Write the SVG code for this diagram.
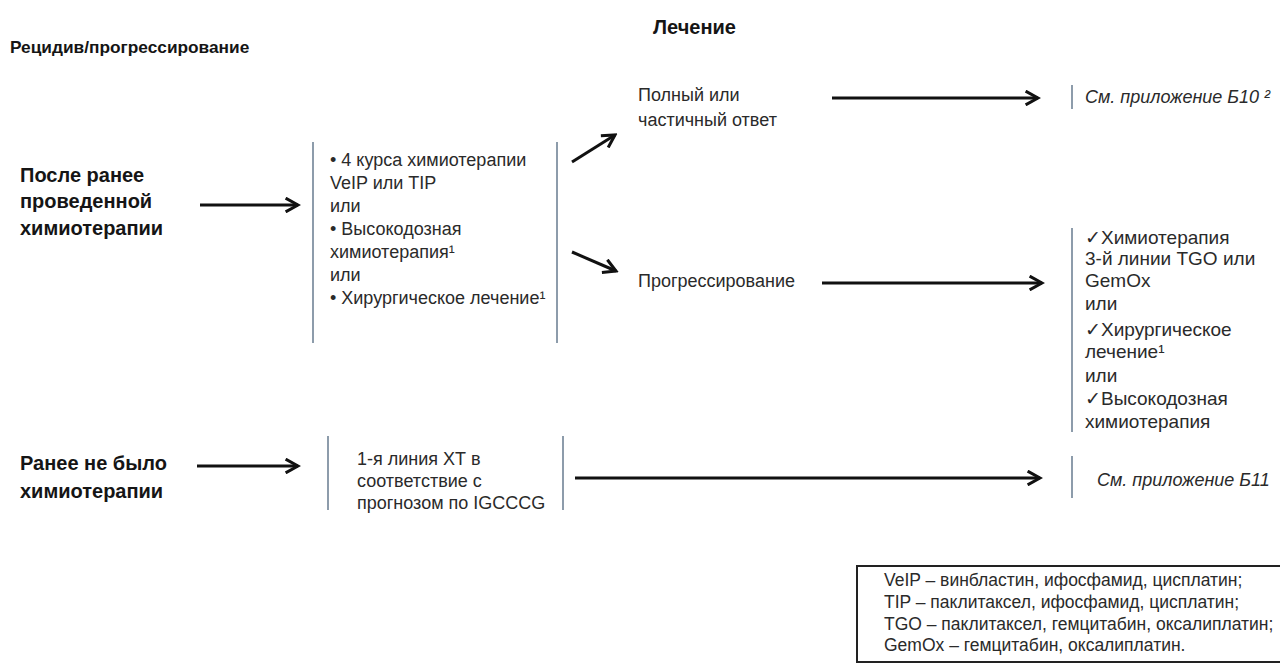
<svg xmlns="http://www.w3.org/2000/svg" width="1280" height="669" viewBox="0 0 1280 669">
<defs>
<style>
text{font-family:"Liberation Sans",Arial,sans-serif;fill:#2a2a2a;}
.h{font-weight:bold;font-size:17.3px;fill:#151515;}
.big{font-weight:bold;font-size:20px;fill:#151515;}
.t{font-size:18px;}
.r{font-size:19px;}
.it{font-size:18px;font-style:italic;}
.leg{font-size:17.5px;}
.bar{stroke:#8d9cab;stroke-width:2;}
.arr{stroke:#111;stroke-width:3;fill:none;marker-end:url(#ah);}
</style>
<marker id="ah" viewBox="0 0 12 12" refX="10" refY="6" markerWidth="5.5" markerHeight="5.5" markerUnits="strokeWidth" orient="auto">
<path d="M1,1 L10,6 L1,11" fill="none" stroke="#111" stroke-width="2.2"/>
</marker>
</defs>
<rect width="1280" height="669" fill="#fff"/>

<g id="titles">
<text class="h" x="10" y="53">Рецидив/прогрессирование</text>
<text class="h" x="653" y="34" style="font-size:20px">Лечение</text>
</g>

<g id="n-after">
<text class="big" x="20" y="182">После ранее</text>
<text class="big" x="20" y="208">проведенной</text>
<text class="big" x="20" y="235">химиотерапии</text>
</g>

<g id="n-options">
<line class="bar" x1="313" y1="142" x2="313" y2="343"/>
<line class="bar" x1="557" y1="142" x2="557" y2="343"/>
<text class="t" x="330" y="166">• 4 курса химиотерапии</text>
<text class="t" x="330" y="189">VeIP или TIP</text>
<text class="t" x="330" y="212">или</text>
<text class="t" x="330" y="235">• Высокодозная</text>
<text class="t" x="330" y="258">химиотерапия¹</text>
<text class="t" x="330" y="281">или</text>
<text class="t" x="330" y="304">• Хирургическое лечение¹</text>
</g>

<g id="n-response">
<text class="t" x="638" y="101">Полный или</text>
<text class="t" x="638" y="126">частичный ответ</text>
</g>

<g id="n-b10">
<line class="bar" x1="1072" y1="85" x2="1072" y2="109"/>
<text class="it" x="1085" y="103">См. приложение Б10 ²</text>
</g>

<g id="n-progress">
<text class="t" x="638" y="287">Прогрессирование</text>
</g>

<g id="n-third">
<line class="bar" x1="1072" y1="228" x2="1072" y2="432"/>
<text class="r" x="1085" y="244">✓Химиотерапия</text>
<text class="r" x="1085" y="265">3-й линии TGO или</text>
<text class="r" x="1085" y="287">GemOx</text>
<text class="r" x="1085" y="310">или</text>
<text class="r" x="1085" y="336">✓Хирургическое</text>
<text class="r" x="1085" y="358">лечение¹</text>
<text class="r" x="1085" y="382">или</text>
<text class="r" x="1085" y="405">✓Высокодозная</text>
<text class="r" x="1085" y="428">химиотерапия</text>
</g>

<g id="n-nochemo">
<text class="big" x="20" y="470">Ранее не было</text>
<text class="big" x="20" y="498">химиотерапии</text>
</g>

<g id="n-first">
<line class="bar" x1="328" y1="436" x2="328" y2="510"/>
<line class="bar" x1="563" y1="436" x2="563" y2="510"/>
<text class="t" x="357" y="465">1-я линия ХТ в</text>
<text class="t" x="357" y="487">соответствие с</text>
<text class="t" x="357" y="509">прогнозом по IGCCCG</text>
</g>

<g id="n-b11">
<line class="bar" x1="1072" y1="456" x2="1072" y2="498"/>
<text class="it" x="1097" y="486">См. приложение Б11</text>
</g>

<g id="n-legend">
<rect x="857" y="566" width="440" height="96" fill="#fff" stroke="#222" stroke-width="2"/>
<text class="leg" x="884" y="586">VeIP – винбластин, ифосфамид, цисплатин;</text>
<text class="leg" x="884" y="608">TIP – паклитаксел, ифосфамид, цисплатин;</text>
<text class="leg" x="884" y="630">TGO – паклитаксел, гемцитабин, оксалиплатин;</text>
<text class="leg" x="884" y="651">GemOx – гемцитабин, оксалиплатин.</text>
</g>

<g id="connectors">
<line class="arr" x1="200" y1="205" x2="298" y2="205"/>
<line class="arr" x1="572" y1="162" x2="615" y2="135"/>
<line class="arr" x1="572" y1="252" x2="616" y2="271"/>
<line class="arr" x1="832" y1="98" x2="1038" y2="98"/>
<line class="arr" x1="822" y1="283" x2="1042" y2="283"/>
<line class="arr" x1="197" y1="466" x2="298" y2="466"/>
<line class="arr" x1="575" y1="478" x2="1040" y2="478"/>
</g>
</svg>
